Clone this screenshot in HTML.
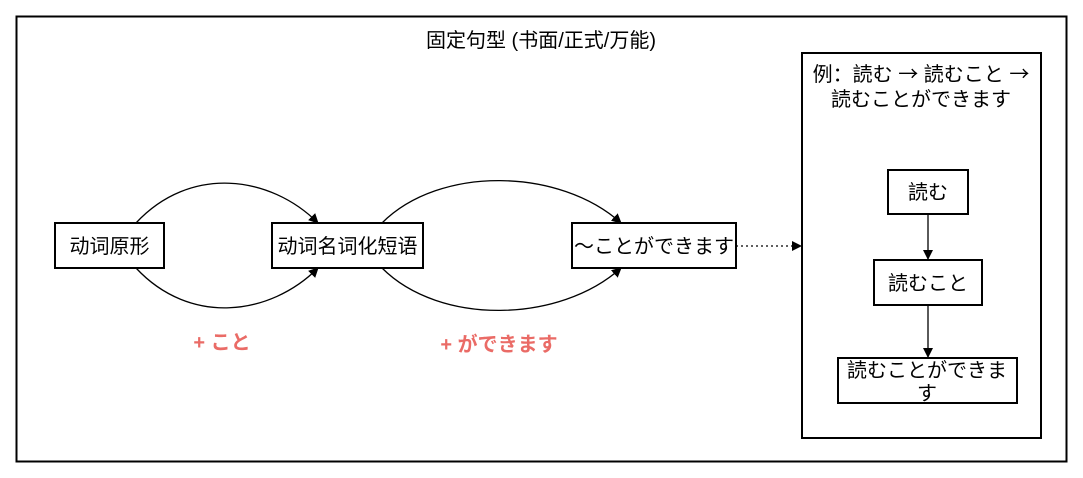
<!DOCTYPE html>
<html><head><meta charset="utf-8"><style>
body{margin:0;background:#fff;width:1083px;height:473px;overflow:hidden;font-family:"Liberation Sans","Noto Sans CJK SC",sans-serif;}
</style></head><body>
<svg width="1083" height="473" viewBox="0 0 1083 473" xmlns="http://www.w3.org/2000/svg" font-family="Liberation Sans, Noto Sans CJK SC, sans-serif">
<defs>
<marker id="a" markerWidth="10" markerHeight="10" refX="9" refY="5" orient="auto" markerUnits="userSpaceOnUse"><path d="M0,0 L10,5 L0,10 z" fill="#000"/></marker>
</defs>
<rect x="16.5" y="16.5" width="1050" height="445" fill="#fff" stroke="#000" stroke-width="2"/>
<text x="541" y="47" font-size="20" text-anchor="middle">固定句型 (书面/正式/万能)</text>
<rect x="802" y="53" width="239" height="385" fill="#fff" stroke="#000" stroke-width="2"/>
<text x="921" y="81" font-size="20" text-anchor="middle">例：読む <tspan font-family="Noto Sans CJK SC">→</tspan> 読むこと <tspan font-family="Noto Sans CJK SC">→</tspan></text>
<text x="921" y="106" font-size="20" text-anchor="middle">読むことができます</text>
<g fill="none" stroke="#000" stroke-width="1.3">
<path d="M136,223 C190,165 270,175 318,223" marker-end="url(#a)"/>
<path d="M136,268 C190,326 270,316 318,268" marker-end="url(#a)"/>
<path d="M382,223 C440,165 560,168 621,223" marker-end="url(#a)"/>
<path d="M382,268 C440,326 560,323 621,268" marker-end="url(#a)"/>
<path d="M736,246 L801,246" stroke-dasharray="2,3" marker-end="url(#a)"/>
<path d="M928,214 L928,259" marker-end="url(#a)"/>
<path d="M928,305 L928,357" marker-end="url(#a)"/>
</g>
<g fill="#fff" stroke="#000" stroke-width="2">
<rect x="55" y="223" width="109" height="45"/>
<rect x="272" y="223" width="151" height="45"/>
<rect x="572" y="223" width="164" height="45"/>
<rect x="888" y="170" width="80" height="44"/>
<rect x="874" y="260" width="108" height="45"/>
<rect x="838" y="358" width="179" height="45"/>
</g>
<g font-size="20" text-anchor="middle">
<text x="109.5" y="253">动词原形</text>
<text x="347.5" y="253">动词名词化短语</text>
<text x="654" y="253">～ことができます</text>
<text x="928" y="199">読む</text>
<text x="928" y="290">読むこと</text>
<text x="927" y="377">読むことができま</text>
<text x="927" y="400">す</text>
</g>
<g font-size="20" font-weight="bold" fill="#ea6b66" text-anchor="middle">
<text x="222" y="349">+ こと</text>
<text x="499" y="351">+ ができます</text>
</g>
</svg>
</body></html>
